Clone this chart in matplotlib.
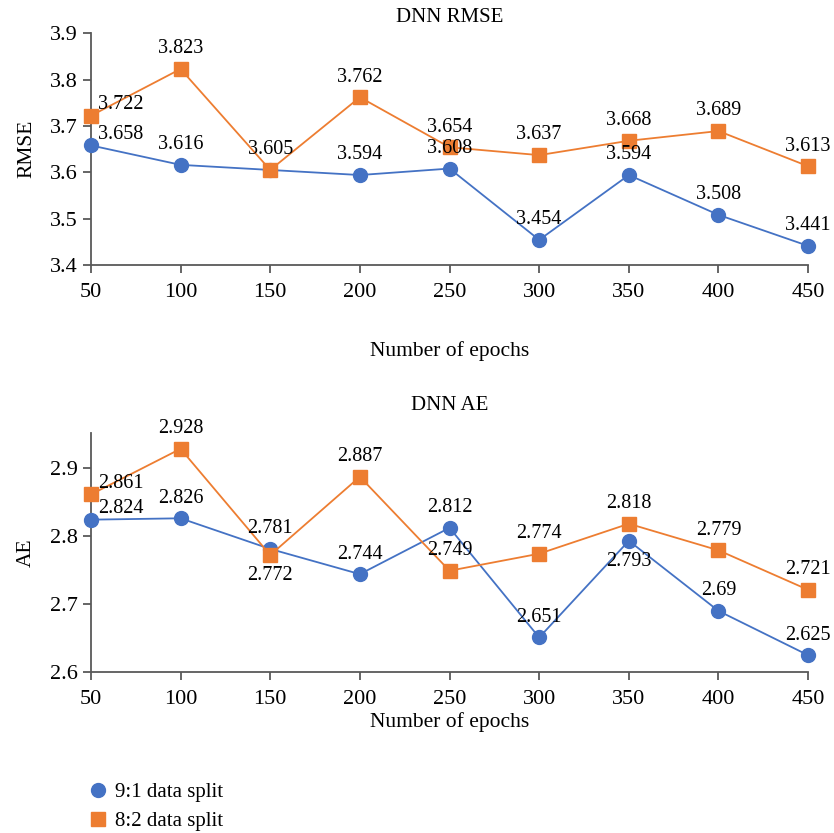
import numpy as np
import matplotlib
matplotlib.use("Agg")
import matplotlib.pyplot as plt

plt.rcParams['font.family'] = ['Liberation Serif', 'DejaVu Serif']

epochs = [50, 100, 150, 200, 250, 300, 350, 400, 450]
rmse_91 = [3.658, 3.616, 3.605, 3.594, 3.608, 3.454, 3.594, 3.508, 3.441]
rmse_82 = [3.722, 3.823, 3.605, 3.762, 3.654, 3.637, 3.668, 3.689, 3.613]
ae_91 = [2.824, 2.826, 2.781, 2.744, 2.812, 2.651, 2.793, 2.69, 2.625]
ae_82 = [2.861, 2.928, 2.772, 2.887, 2.749, 2.774, 2.818, 2.779, 2.721]

# label placement: "r" = right-up, "a" = above, "b" = below, None = hidden
rmse_91_pos = ["r", "a", None, "a", "a", "a", "a", "a", "a"]
rmse_82_pos = ["r", "a", "a", "a", "a", "a", "a", "a", "a"]
ae_91_pos = ["r", "a", "a", "a", "a", "a", "b", "a", "a"]
ae_82_pos = ["r", "a", "b", "a", "a", "a", "a", "a", "a"]

blue = "#4472C4"
orange = "#ED7D31"
spine = "#595959"

fig = plt.figure(figsize=(8.34, 8.33), dpi=100)
ax1 = fig.add_axes([0.109, 0.682, 0.860, 0.278])
ax2 = fig.add_axes([0.109, 0.193, 0.860, 0.287])


def label_points(ax, xs, ys, pos):
    for x, y, p in zip(xs, ys, pos):
        if p is None:
            continue
        txt = f"{y:g}"
        if p == "r":
            ax.annotate(txt, (x, y), xytext=(5, 8), textcoords="offset points",
                        ha="left", va="center", fontsize=14.5)
        elif p == "a":
            ax.annotate(txt, (x, y), xytext=(0, 14.5), textcoords="offset points",
                        ha="center", va="center", fontsize=14.5)
        else:
            ax.annotate(txt, (x, y), xytext=(0, -15), textcoords="offset points",
                        ha="center", va="center", fontsize=14.5)


def style(ax, title, ylabel, ylim, yticks, tpad, xpad):
    ax.set_xlim(50, 450)
    ax.set_ylim(*ylim)
    ax.set_xticks(epochs)
    ax.set_yticks(yticks)
    ax.set_title(title, fontsize=15, pad=tpad)
    ax.set_ylabel(ylabel, fontsize=15.5, labelpad=10)
    ax.set_xlabel("Number of epochs", fontsize=15.5, labelpad=xpad)
    for s in ["top", "right"]:
        ax.spines[s].set_visible(False)
    for s in ["left", "bottom"]:
        ax.spines[s].set_color(spine)
        ax.spines[s].set_linewidth(1.3)
    ax.tick_params(axis="both", colors=spine, labelcolor="black", labelsize=16,
                   length=6, width=1.3, direction="out")
    ax.tick_params(axis="x", pad=7)


ax1.plot(epochs, rmse_91, color=blue, marker="o", markersize=10, lw=1.3,
         label="9:1 data split", clip_on=False, zorder=3)
ax1.plot(epochs, rmse_82, color=orange, marker="s", markersize=10, lw=1.3,
         label="8:2 data split", clip_on=False, zorder=3)
label_points(ax1, epochs, rmse_91, rmse_91_pos)
label_points(ax1, epochs, rmse_82, rmse_82_pos)
style(ax1, "DNN RMSE", "RMSE", (3.4, 3.9), [3.4, 3.5, 3.6, 3.7, 3.8, 3.9],
      tpad=8, xpad=28)

ax2.plot(epochs, ae_91, color=blue, marker="o", markersize=10, lw=1.3,
         clip_on=False, zorder=3)
ax2.plot(epochs, ae_82, color=orange, marker="s", markersize=10, lw=1.3,
         clip_on=False, zorder=3)
label_points(ax2, epochs, ae_91, ae_91_pos)
label_points(ax2, epochs, ae_82, ae_82_pos)
style(ax2, "DNN AE", "AE", (2.6, 2.951), [2.6, 2.7, 2.8, 2.9],
      tpad=17, xpad=2)

handles, labels = ax1.get_legend_handles_labels()
fig.legend(handles, labels, loc="upper left", bbox_to_anchor=(0.0875, 0.083),
           frameon=False, fontsize=15, handlelength=0.6, handletextpad=0.5,
           labelspacing=0.45)

fig.savefig("out.png", dpi=100)
